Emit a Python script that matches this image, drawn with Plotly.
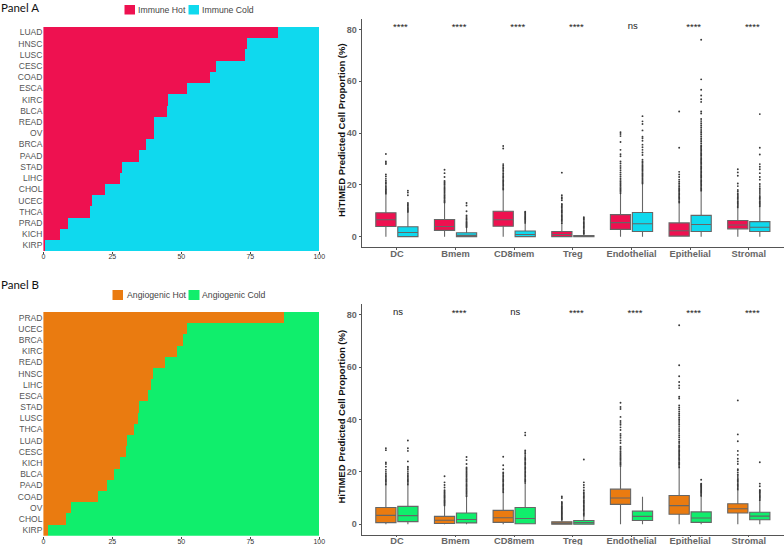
import plotly.graph_objects as go

W, H = 784, 545

# ---- stacked bar data ----
cancers_a = ["LUAD","HNSC","LUSC","CESC","COAD","ESCA","KIRC","BLCA","READ","OV","BRCA","PAAD","STAD","LIHC","CHOL","UCEC","THCA","PRAD","KICH","KIRP"]
immune_hot = [85.1,73.9,73.2,62.6,60.6,52.2,45.3,45.0,40.1,40.1,37.2,34.8,28.7,27.9,22.3,17.6,17.0,9.0,6.3,0.7]
immune_cold = [14.9,26.1,26.8,37.4,39.4,47.8,54.7,55.0,59.9,59.9,62.8,65.2,71.3,72.1,77.7,82.4,83.0,91.0,93.7,99.3]

cancers_b = ["PRAD","UCEC","BRCA","KIRC","READ","HNSC","LIHC","ESCA","STAD","LUSC","THCA","LUAD","CESC","KICH","BLCA","PAAD","COAD","OV","CHOL","KIRP"]
angio_hot = [87.2,52.1,50.8,48.7,44.3,39.7,39.1,38.2,34.7,34.6,32.9,30.3,30.1,27.8,25.7,23.3,19.8,10.1,8.5,1.8]
angio_cold = [12.8,47.9,49.2,51.3,55.7,60.3,60.9,61.8,65.3,65.4,67.1,69.7,69.9,72.2,74.3,76.7,80.2,89.9,91.5,98.2]

# ---- box plot data ----
cell_types = ["DC","Bmem","CD8mem","Treg","Endothelial","Epithelial","Stromal"]
sig_a = ["****","****","****","****","ns","****","****"]
sig_b = ["ns","****","ns","****","****","****","****"]

a_hot_q1 = [3.9,2.4,4.0,0.0,2.8,0.2,3.0]
a_hot_med = [6.5,3.9,6.5,0.8,5.4,2.3,4.5]
a_hot_q3 = [9.2,6.6,9.8,2.0,8.5,5.3,6.2]
a_hot_low = [0,0,0,0,0,0,0]
a_hot_high = [16.5,13.0,18.0,5.0,16.5,13.0,11.0]
a_cold_q1 = [0.0,0.0,0.0,0.0,2.0,2.0,2.0]
a_cold_med = [1.6,0.5,0.8,0.1,5.0,4.7,3.6]
a_cold_q3 = [3.8,1.5,2.2,0.4,9.3,8.2,5.8]
a_cold_low = [0,0,0,0,0,0,0]
a_cold_high = [9.3,3.5,5.2,1.0,20.3,17.5,11.5]

b_hot_q1 = [0.6,0.3,0.7,0.0,7.6,3.8,4.3]
b_hot_med = [3.4,1.5,2.5,0.3,10.0,7.1,5.9]
b_hot_q3 = [6.4,3.0,5.3,0.9,13.4,11.0,7.8]
b_hot_low = [0,0,0,0,0,0,0]
b_hot_high = [15.0,7.0,12.0,1.5,22.0,21.5,13.0]
b_cold_q1 = [1.0,0.5,0.2,0.0,1.4,0.7,1.7]
b_cold_med = [3.3,1.8,2.2,0.6,3.0,2.4,3.1]
b_cold_q3 = [6.8,4.3,6.4,1.4,5.0,4.7,4.6]
b_cold_low = [0,0,0,0,0,0,0]
b_cold_high = [15.0,10.5,15.5,3.0,10.5,10.5,9.0]

a_hot_out = [
 [16.6,17,17.4,17.9,18.3,18.8,19.3,19.9,20.5,21,21.6,22.3,23.2,24,28,28.4,29,31.9],
 [13.2,13.6,14,14.5,15,15.5,16,16.5,17,17.5,18,18.5,19,19.5,20,20.5,21,21.5,23,24.5,25.8],
 [18.2,18.7,19.2,19.7,20.2,20.7,21.2,21.7,22.2,22.7,23.2,23.8,24.4,25,25.6,26.2,26.8,27.4,28,34,35],
 [5.2,5.7,6.2,6.7,7.2,7.7,8.2,8.7,9.2,9.7,10.2,10.7,11.2,11.7,12.2,12.6,14,14.6,15.2,16,24.7],
 [16.7,17.2,17.7,18.2,18.7,19.2,19.7,20.2,20.7,21.3,21.9,22.5,23.2,24,24.8,25.6,26.5,27.3,28.2,29,31,31.8,33.5,36.5,38.8,39.6,40.3],
 [13.2,13.7,14.2,14.7,15.2,15.7,16.2,16.7,17.2,17.7,18.2,18.7,19.3,19.9,20.5,21.2,22,23,24,25,34.3,48.3],
 [11.2,11.7,12.2,12.7,13.2,13.7,14.2,14.7,15.2,15.7,16.2,16.7,17.4,18,19.5,20.5,23.5,24.8,26],
]
a_cold_out = [
 [9.5,9.9,10.3,10.7,11.1,11.5,12,12.5,13,16,17,17.7],
 [3.6,4,4.4,4.8,5.2,5.6,6,6.5,7,7.6,8.2,9.8,12,13],
 [5.3,5.7,6.1,6.5,6.9,7.3,7.7,8.1,8.5,8.9,9.3,9.6],
 [1.1,1.5,2,2.5,3,3.5,4,4.5,5,5.5,6,6.5,7,7.5],
 [20.5,21,21.5,22,22.5,23,23.5,24,24.5,25,25.5,26,26.5,27,27.5,28,28.5,29,29.7,31.5,32.5,33.5,34.5,35.5,37,38,38.6,41,43.5,44.5,46.5],
 [17.7,18.2,18.7,19.2,19.7,20.2,20.7,21.2,21.7,22.2,22.7,23.2,23.7,24.2,24.7,25.2,25.7,26.2,26.7,27.2,27.7,28.2,28.7,29.2,29.7,30.2,30.7,31.2,31.7,32.2,32.7,33.2,33.7,34.2,34.7,35.2,35.9,36.6,37.3,38,38.7,39.4,40.1,40.8,41.5,42.2,43,43.8,44.6,45.4,47.5,48.3,52,53,54.5,56.7,60.7,76],
 [11.7,12.2,12.7,13.2,13.7,14.2,14.7,15.2,15.7,16.5,17.2,18,18.7,19.5,20.3,22,23,24.5,26,27,28,31.7,34.3,47.3],
]
b_hot_out = [
 [15.2,15.7,16.2,16.7,17.2,17.7,18.2,18.7,19.3,20,20.8,22,23,23.6,28.3,29],
 [7.2,7.6,8,8.4,8.8,9.2,9.6,10,10.4,10.8,11.2,11.6,12,12.5,13,14,15,16,18.3],
 [12.2,12.7,13.2,13.7,14.2,14.7,15.2,15.7,16.2,16.7,17.2,17.7,18.2,18.7,19.3,19.8,21,22.5,25.8],
 [1.7,2.1,2.5,2.9,3.3,3.7,4.1,4.5,4.9,5.3,5.7,6.1,6.5,6.9,7.3,7.7,8.1,8.5,10,10.6],
 [22.2,22.7,23.2,23.7,24.2,24.7,25.2,25.7,26.2,26.7,27.2,27.8,28.4,29,29.6,31,32,33,33.8,34.5,36,37,38,38.7,39.4,41,44,44.8,46.4],
 [21.7,22.2,22.7,23.2,23.7,24.2,24.7,25.2,25.7,26.2,26.7,27.2,27.7,28.2,28.7,29.2,29.7,30.2,31,31.6,32.4,33.2,34,34.8,35.6,36.4,37.2,38,38.7,39.4,40.1,40.8,41.5,42.2,43,43.8,44.6,45.4,48,48.7,52,53,54.3,56.5,60.7,76],
 [13.2,13.7,14.2,14.7,15.2,15.7,16.2,16.7,17.2,17.7,18.4,19,19.8,20.6,21,23,24,25,26.5,28,31.7,34.3,47.3],
]
b_cold_out = [
 [15.2,15.7,16.2,16.7,17.2,17.7,18.2,18.7,19.3,20,20.8,21.5,22,24,28,29,32],
 [10.7,11.2,11.7,12.2,12.7,13.2,13.7,14.2,14.7,15.2,15.7,16.2,16.7,17.2,17.7,18.2,18.7,19.2,19.7,20.2,20.7,21.2,21.7,23,24.5,25.7],
 [15.7,16.2,16.7,17.2,17.7,18.2,18.7,19.2,19.7,20.2,20.7,21.2,21.7,22.2,22.7,23.2,23.7,24.2,24.7,25.2,25.7,26.4,27,27.6,28.2,34,35],
 [3.2,3.7,4.2,4.7,5.2,5.7,6.2,6.7,7.2,7.7,8.2,8.7,9.2,9.7,10.2,10.7,11.2,11.7,12.2,13,14,15,16,24.7],
 [],
 [10.8,11.2,11.6,12,12.4,12.8,13.2,13.6,14,14.4,14.8,15.2,15.5,17],
 [9.2,9.6,10,10.4,10.8,11.2,11.6,12,12.4,12.8,13.1,14.5,15.5,23.7],
]

# ---- styling ----
RED, CYAN, ORANGE, GREEN = "#EE1150", "#0FD9EE", "#EA7B10", "#10EE6C"
SANS = "Liberation Sans, Arial, sans-serif"
OFFSET = 0.1875
BOX_W = 0.345
STROKE = "#666666"
Y_TITLE = "<b>HiTIMED Predicted Cell Proportion (%)</b>"
positions = list(range(1, len(cell_types) + 1))


def px_x(a, b):
    return [a / W, b / W]


def px_y(top, bottom):
    return [1 - bottom / H, 1 - top / H]


fig = go.Figure()


def add_stack(cats, hot, cold, hot_name, cold_name, c1, c2, xa, ya):
    fig.add_trace(go.Bar(y=cats, x=hot, orientation="h", name=hot_name, marker=dict(color=c1, line=dict(width=0)), xaxis=xa, yaxis=ya, showlegend=False))
    fig.add_trace(go.Bar(y=cats, x=cold, orientation="h", name=cold_name, marker=dict(color=c2, line=dict(width=0)), xaxis=xa, yaxis=ya, showlegend=False))


def add_boxes(q1, med, q3, low, high, out, offs, color, name, xa, ya):
    xs = [p + offs for p in positions]
    fig.add_trace(go.Box(x=xs, q1=q1, median=med, q3=q3, lowerfence=low, upperfence=high, width=BOX_W,
                         fillcolor=color, line=dict(color=STROKE, width=1.1), whiskerwidth=0, boxpoints=False,
                         name=name, xaxis=xa, yaxis=ya, showlegend=False))
    ox, oy = [], []
    for x, vals in zip(xs, out):
        ox += [x] * len(vals)
        oy += vals
    fig.add_trace(go.Scatter(x=ox, y=oy, mode="markers", marker=dict(size=1.9, color="#3a3a3a", line=dict(width=0)),
                             name=name + " outliers", xaxis=xa, yaxis=ya, showlegend=False))


def add_sig(sig, xa, ya):
    stars_x = [p + 0.06 for p, s in zip(positions, sig) if s != "ns"]
    stars = [s for s in sig if s != "ns"]
    ns_x = [p + 0.02 for p, s in zip(positions, sig) if s == "ns"]
    ns = [s for s in sig if s == "ns"]
    fig.add_trace(go.Scatter(x=stars_x, y=[80.6] * len(stars), mode="text", text=stars, textposition="middle center",
                             textfont=dict(size=9.5, color="#222222", family=SANS), xaxis=xa, yaxis=ya, showlegend=False))
    fig.add_trace(go.Scatter(x=ns_x, y=[81] * len(ns), mode="text", text=ns, textposition="middle center",
                             textfont=dict(size=9.5, color="#222222", family=SANS), xaxis=xa, yaxis=ya, showlegend=False))


add_stack(cancers_a, immune_hot, immune_cold, "Immune Hot", "Immune Cold", RED, CYAN, "x", "y")
add_stack(cancers_b, angio_hot, angio_cold, "Angiogenic Hot", "Angiogenic Cold", ORANGE, GREEN, "x2", "y2")
add_boxes(a_hot_q1, a_hot_med, a_hot_q3, a_hot_low, a_hot_high, a_hot_out, -OFFSET, RED, "Immune Hot", "x3", "y3")
add_boxes(a_cold_q1, a_cold_med, a_cold_q3, a_cold_low, a_cold_high, a_cold_out, OFFSET, CYAN, "Immune Cold", "x3", "y3")
add_boxes(b_hot_q1, b_hot_med, b_hot_q3, b_hot_low, b_hot_high, b_hot_out, -OFFSET, ORANGE, "Angiogenic Hot", "x4", "y4")
add_boxes(b_cold_q1, b_cold_med, b_cold_q3, b_cold_low, b_cold_high, b_cold_out, OFFSET, GREEN, "Angiogenic Cold", "x4", "y4")
add_sig(sig_a, "x3", "y3")
add_sig(sig_b, "x4", "y4")

heat_x = dict(range=[0, 100], tickvals=[0, 25, 50, 75, 100], ticks="outside", ticklen=2, tickcolor="#444444",
              tickfont=dict(size=7, color="#333333", family=SANS), showgrid=False, zeroline=False, showline=False,
              automargin=False, ticklabelstandoff=-3)
heat_y = dict(autorange="reversed", tickfont=dict(size=8.5, color="#555555", family=SANS), ticks="", ticklen=0,
              showgrid=False, zeroline=False, showline=False, tickmode="linear", dtick=1, automargin=False)
box_x = dict(range=[0.4, 7.6], tickvals=positions, ticktext=["<b>%s</b>" % c for c in cell_types], ticks="outside", ticklen=1.5,
             tickcolor="#555555", tickfont=dict(size=9.3, color="#666666", family=SANS), showgrid=False, zeroline=False,
             showline=True, linecolor="#555555", linewidth=1.2, automargin=False, ticklabelstandoff=-4)
box_y = dict(range=[-4, 84], tickvals=[0, 20, 40, 60, 80], ticktext=["<b>%d</b>" % v for v in [0, 20, 40, 60, 80]],
             ticks="outside", ticklen=2, tickcolor="#555555", tickfont=dict(size=9, color="#666666", family=SANS),
             showgrid=False, zeroline=False, showline=True, linecolor="#555555", linewidth=1.2, automargin=False)

shapes = []
annots = []


def label(text, x, y, size=8.7, color="#444444", family=SANS):
    annots.append(dict(text=text, x=x / W, y=1 - y / H, xref="paper", yref="paper", xanchor="left", yanchor="middle",
                       showarrow=False, font=dict(size=size, color=color, family=family)))


def y_title(y):
    annots.append(dict(text=Y_TITLE, x=341 / W, y=1 - y / H, xref="paper", yref="paper", xanchor="center", yanchor="middle",
                       textangle=-90, showarrow=False, font=dict(size=9.5, color="#111111", family=SANS)))


def swatch(x0, x1, y0, y1, color):
    shapes.append(dict(type="rect", xref="paper", yref="paper", x0=x0 / W, x1=x1 / W, y0=1 - y1 / H, y1=1 - y0 / H,
                       fillcolor=color, line=dict(width=0)))


swatch(124.5, 135, 5, 14.5, RED)
label("Immune Hot", 135.5, 9.5)
swatch(188.5, 199, 5, 14.5, CYAN)
label("Immune Cold", 199.5, 9.5)
swatch(112.5, 123, 290, 300, ORANGE)
label("Angiogenic Hot", 124.5, 295)
swatch(188.5, 199.5, 290, 300, GREEN)
label("Angiogenic Cold", 200, 295)
label("Panel A", -1.5, 7, size=11.5, color="#111111", family="Lato, sans-serif")
label("Panel B", -1.5, 284.5, size=11.5, color="#111111", family="Lato, sans-serif")
y_title(130)
y_title(416.5)

fig.update_layout(
    width=W, height=H, autosize=False,
    margin=dict(l=0, r=0, t=0, b=0, autoexpand=False),
    paper_bgcolor="white", plot_bgcolor="white",
    barmode="stack", bargap=0, boxmode="overlay", showlegend=False,
    shapes=shapes, annotations=annots,
    xaxis=dict(domain=px_x(43.4, 319.3), anchor="y", **heat_x),
    yaxis=dict(domain=px_y(26.7, 251), anchor="x", **heat_y),
    xaxis2=dict(domain=px_x(43.4, 319.3), anchor="y2", **heat_x),
    yaxis2=dict(domain=px_y(312, 535.7), anchor="x2", **heat_y),
    xaxis3=dict(domain=px_x(361.7, 784), anchor="y3", **box_x),
    yaxis3=dict(domain=px_y(19, 247), anchor="x3", **box_y),
    xaxis4=dict(domain=px_x(361.7, 784), anchor="y4", **box_x),
    yaxis4=dict(domain=px_y(304.3, 534.7), anchor="x4", **box_y),
)

fig.write_html("out.html", config=dict(displayModeBar=False),
               post_script="document.body.style.margin='0';document.body.style.overflow='hidden';")
